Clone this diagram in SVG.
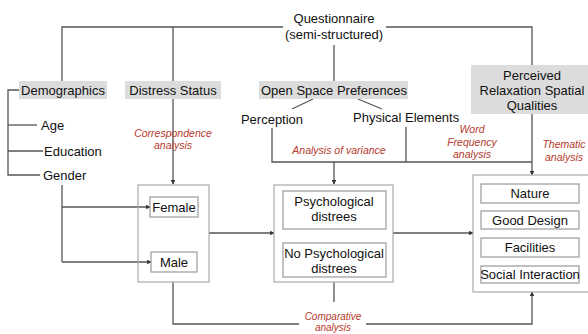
<svg xmlns="http://www.w3.org/2000/svg" width="588" height="334" viewBox="0 0 588 334">
<style>
text{font-family:"Liberation Sans",Arial,sans-serif;font-size:13px;fill:#111;}
.c{text-anchor:middle;}
.r{fill:#b5392c;font-style:italic;font-size:10.5px;text-anchor:middle;}
.s{font-size:10px;}
.hdr{fill:#dcdcdc;stroke:none;}
.box{fill:none;stroke:#aaa;stroke-width:1.2;}
.in{fill:#fff;stroke:#999;stroke-width:1.2;}
.ln{fill:none;stroke:#555;stroke-width:1.3;}
</style>
<defs>
<marker id="ah" viewBox="0 0 8 8" refX="7" refY="4" markerWidth="4.5" markerHeight="4.5" orient="auto" markerUnits="userSpaceOnUse">
<path d="M0,0 L8,4 L0,8 z" fill="#333"/>
</marker>
</defs>
<rect width="588" height="334" fill="#fff"/>

<g id="connectors">
<path class="ln" d="M283,27 H62 V81"/>
<path class="ln" d="M173,27 V81"/>
<path class="ln" d="M386,27 H532 V65"/>
<path class="ln" d="M334,45 V81"/>
<path class="ln" d="M19,90 H8 V175 H40"/>
<path class="ln" d="M8,125 H37"/>
<path class="ln" d="M8,151 H43"/>
<path class="ln" d="M62,185 V262"/>
<path class="ln" d="M62,207 H150" marker-end="url(#ah)"/>
<path class="ln" d="M62,262 H151" marker-end="url(#ah)"/>
<path class="ln" d="M173,99 V184" marker-end="url(#ah)"/>
<path class="ln" d="M313,99 L292,109"/>
<path class="ln" d="M358,99 L382,109"/>
<path class="ln" d="M272,128 V162 H532"/>
<path class="ln" d="M406,127 V162"/>
<path class="ln" d="M334,162 V184" marker-end="url(#ah)"/>
<path class="ln" d="M532,114 V175" marker-end="url(#ah)"/>
<path class="ln" d="M209,233 H274" marker-end="url(#ah)"/>
<path class="ln" d="M393,233 H473" marker-end="url(#ah)"/>
<path class="ln" d="M173,282 V324 H299"/>
<path class="ln" d="M366,324 H532 V292" marker-end="url(#ah)"/>
<path class="ln" d="M334,282 V302"/>
<text class="r" x="173" y="137">Correspondence</text>
<text class="r" x="173" y="149">analysis</text>
<text class="r" x="339" y="154">Analysis of variance</text>
<text class="r" x="472" y="133">Word</text>
<text class="r" x="472" y="146">Frequency</text>
<text class="r" x="472" y="158">analysis</text>
<text class="r" x="564" y="148">Thematic</text>
<text class="r" x="564" y="161">analysis</text>
<text class="r s" x="333" y="320">Comparative</text>
<text class="r s" x="333" y="331">analysis</text>
</g>

<g id="questionnaire">
<text class="c" x="334" y="23">Questionnaire</text>
<text class="c" x="334" y="39">(semi-structured)</text>
</g>

<g id="demographics">
<rect class="hdr" x="19" y="81" width="88" height="18"/>
<text class="c" x="63" y="95">Demographics</text>
</g>
<g id="age"><text x="41" y="130">Age</text></g>
<g id="education"><text x="44" y="156">Education</text></g>
<g id="gender"><text x="43" y="180">Gender</text></g>

<g id="distress-status">
<rect class="hdr" x="125" y="81" width="96" height="18"/>
<text class="c" x="173" y="95">Distress Status</text>
</g>

<g id="open-space">
<rect class="hdr" x="259" y="81" width="149" height="18"/>
<text class="c" x="334" y="95">Open Space Preferences</text>
</g>
<g id="perception"><text class="c" x="272" y="124">Perception</text></g>
<g id="physical"><text x="353" y="122">Physical Elements</text></g>

<g id="perceived">
<rect class="hdr" x="471" y="65" width="117" height="49"/>
<text class="c" x="532" y="80">Perceived</text>
<text class="c" x="532" y="95">Relaxation Spatial</text>
<text class="c" x="532" y="110">Qualities</text>
</g>

<g id="gender-group">
<rect class="box" x="138" y="185" width="71" height="97"/>
<rect class="in" x="150" y="197" width="48" height="20"/>
<text class="c" x="174" y="212">Female</text>
<rect class="in" x="151" y="252" width="46" height="20"/>
<text class="c" x="174" y="267">Male</text>
</g>

<g id="distress-group">
<rect class="box" x="274" y="185" width="119" height="97"/>
<rect class="in" x="283" y="191" width="103" height="38"/>
<text class="c" x="334" y="206">Psychological</text>
<text class="c" x="334" y="221">distrees</text>
<rect class="in" x="283" y="243" width="103" height="34"/>
<text class="c" x="334" y="258">No Psychological</text>
<text class="c" x="334" y="273">distrees</text>
</g>

<g id="qualities-group">
<rect class="box" x="473" y="175" width="120" height="117"/>
<rect class="in" x="481" y="184" width="98" height="19"/>
<text class="c" x="530" y="198">Nature</text>
<rect class="in" x="481" y="211" width="98" height="18"/>
<text class="c" x="530" y="225">Good Design</text>
<rect class="in" x="481" y="238" width="98" height="19"/>
<text class="c" x="530" y="252">Facilities</text>
<rect class="in" x="481" y="266" width="98" height="17"/>
<text class="c" x="530" y="279">Social Interaction</text>
</g>
</svg>
